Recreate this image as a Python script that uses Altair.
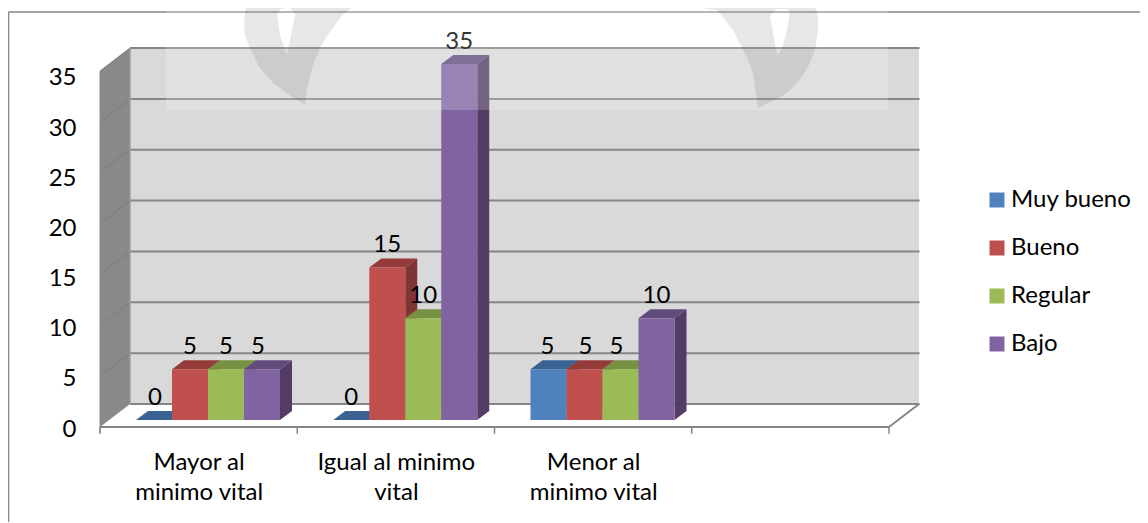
import json
import numpy as np
import pandas as pd
import altair as alt

# ---------- chart values ----------
categories = ["Mayor al minimo vital", "Igual al minimo vital", "Menor al minimo vital"]
category_lines = [["Mayor al", "minimo vital"], ["Igual al minimo", "vital"], ["Menor al", "minimo vital"]]
series = ["Muy bueno", "Bueno", "Regular", "Bajo"]
muy_bueno = [0, 0, 5]
bueno = [5, 15, 5]
regular = [5, 10, 5]
bajo = [5, 35, 10]
ticks_y = [0, 5, 10, 15, 20, 25, 30, 35]

front_colors = ["#4F81BD", "#C0504D", "#9BBB59", "#8064A2"]
top_colors = ["#3A6293", "#943B39", "#779143", "#614B7D"]
side_colors = ["#33547E", "#7E3534", "#667C39", "#533D66"]

FONT = "Lato"
FS = 24
GRID = "#868686"


# ---------- page-pixel helpers: the scales are linear, these give lengths in data units ----------
def X(px):
    return (px - 100) / 197.25


def Y(py):
    return (427 - py) / 10.17


DX_BACK, DY_BACK = 30 / 197.25, 23 / 10.17      # depth of the box
DX_BAR, DY_BAR = 12 / 197.25, 9 / 10.17         # depth of one bar
BASE_Y = 7 / 10.17                              # how far back the bars stand on the floor
BAR_W = 36 / 197.25
BAR_START = 36 / 197.25
VMAX = 35

SX = alt.Scale(domain=[X(8), X(1140)], nice=False, zero=False)
SY = alt.Scale(domain=[Y(523), Y(8)], nice=False, zero=False)


def xe(f="x"):
    return alt.X(f"{f}:Q", scale=SX, title=None)


def ye(f="y"):
    return alt.Y(f"{f}:Q", scale=SY, title=None)


def area(df, color, **mk):
    return alt.Chart(df).mark_area(orient="vertical", color=color, **mk).encode(
        x=xe(), y=ye(), y2=alt.Y2("y2:Q"), detail=alt.Detail("g:N"))


def rule(rows, color=GRID, width=2, **mk):
    return alt.Chart(pd.DataFrame(rows)).mark_rule(color=color, strokeWidth=width, **mk).encode(
        x=xe(), x2=alt.X2("x2:Q"), y=ye(), y2=alt.Y2("y2:Q"))


# ---------- tables ----------
rows = []
for s, (name, vals) in enumerate(zip(series, [muy_bueno, bueno, regular, bajo])):
    for c, (cat, v) in enumerate(zip(categories, vals)):
        rows.append(dict(series=name, s=s, c=c, category=cat, value=v))
bars = pd.DataFrame(rows)
bars["left"] = bars.c + BAR_START + bars.s * BAR_W
bars["right"] = bars.left + BAR_W
bars["base"] = BASE_Y
bars["top"] = BASE_Y + bars.value

# small hand placement of some data labels, in pixels
nudges = {(0, 3): -4, (2, 2): -4, (2, 1): 1, (2, 0): -1, (0, 0): 1}
bars["label_x"] = bars.left + BAR_W / 2 + [nudges.get((a, b), 0) / 197.25 for a, b in zip(bars.c, bars.s)]
bars["label_y"] = bars.top + DY_BAR + 13 / 10.17


def side_faces(sub):
    out = []
    for i, r in sub.iterrows():
        out.append(dict(g=i, x=r.right, y=r.top, y2=r.base))
        out.append(dict(g=i, x=r.right + DX_BAR, y=r.top + DY_BAR, y2=r.base + DY_BAR))
    return pd.DataFrame(out)


def top_faces(sub):
    out = []
    for i, r in sub.iterrows():
        out.append(dict(g=i, x=r.left, y=r.top, y2=r.top))
        out.append(dict(g=i, x=r.left + DX_BAR, y=r.top + DY_BAR, y2=r.top))
        out.append(dict(g=i, x=r.right, y=r.top + DY_BAR, y2=r.top))
        out.append(dict(g=i, x=r.right + DX_BAR, y=r.top + DY_BAR, y2=r.top + DY_BAR))
    return pd.DataFrame(out)


# ---------- box: wall, floor, left wall, grid ----------
x_end = 4
wall = alt.Chart(pd.DataFrame([dict(x=DX_BACK, x2=x_end + DX_BACK, y=DY_BACK, y2=VMAX + DY_BACK)])).mark_rect(
    color="#D9D9D9"
).encode(
    x=alt.X("x:Q", scale=SX, title=None, axis=alt.Axis(
        values=[0.5, 1.5, 2.5], orient="bottom", offset=-73, domain=False, ticks=False, grid=False,
        labelFont=FONT, labelFontSize=FS, labelColor="#000000", labelPadding=0, labelLineHeight=30,
        labelBaseline="top", labelAlign="center", labelOverlap=False, labelFlush=False,
        labelExpr="[" + ",".join(json.dumps(l) for l in category_lines) + "][floor(datum.value)]")),
    x2=alt.X2("x2:Q"),
    y=alt.Y("y:Q", scale=SY, title=None, axis=alt.Axis(
        values=ticks_y, orient="left", offset=-68, domain=False, ticks=False, grid=False,
        labelFont=FONT, labelFontSize=FS, labelColor="#000000", labelPadding=0,
        labelOffset={"expr": "2+datum.value*0.14"})),
    y2=alt.Y2("y2:Q"),
)

floor = area(pd.DataFrame([
    dict(g=0, x=0, y=0, y2=0), dict(g=0, x=DX_BACK, y=DY_BACK, y2=0),
    dict(g=0, x=x_end, y=DY_BACK, y2=0), dict(g=0, x=x_end + DX_BACK, y=DY_BACK, y2=DY_BACK)]), "#FFFFFF")

left_wall = area(pd.DataFrame([
    dict(g=0, x=0, y=0, y2=VMAX), dict(g=0, x=DX_BACK, y=DY_BACK, y2=VMAX + DY_BACK)]), "#898989")

grid_back = rule([dict(x=DX_BACK, x2=x_end + DX_BACK + 0.003, y=v + DY_BACK, y2=v + DY_BACK) for v in ticks_y])
grid_side = rule([dict(x=0, x2=DX_BACK, y=v, y2=v + DY_BACK) for v in ticks_y[1:]], color="#7C7C7C", width=1)
wall_edge = rule([dict(x=DX_BACK, x2=DX_BACK, y=DY_BACK, y2=VMAX + DY_BACK)], color="#9C9C9C", width=1.5)
floor_front = rule([dict(x=0, x2=x_end, y=0, y2=0),
                    dict(x=x_end, x2=x_end + DX_BACK, y=0, y2=DY_BACK)], width=2)
left_edge = rule([dict(x=0, x2=0, y=-0.6, y2=VMAX)], color="#8C8C8C", width=1)
tick_marks = rule([dict(x=i, x2=i, y=0, y2=-0.66) for i in range(5)], width=1.5)

# outer frame of the picture
frame = rule([dict(x=X(8.5), x2=X(1140), y=Y(12), y2=Y(12)),
              dict(x=X(8.5), x2=X(8.5), y=Y(12), y2=Y(522))], width=1.5)

# ---------- bars, painted left to right as in the reference ----------
color_enc = alt.Color("series:N", scale=alt.Scale(domain=series, range=front_colors), legend=alt.Legend(
    orient="none", legendX=977, legendY=180, title=None, symbolType="square", symbolSize=225,
    symbolStrokeWidth=0, symbolOpacity=1, labelFont=FONT, labelFontSize=FS, labelColor="#000000",
    rowPadding=24, labelOffset=2, padding=0))

bar_layers = []
for i, name in enumerate(series):
    sub = bars[bars.series == name]
    bar_layers.append(area(side_faces(sub), side_colors[i]))
    bar_layers.append(area(top_faces(sub), top_colors[i]))
    bar_layers.append(alt.Chart(sub).mark_bar(opacity=1).encode(
        x=xe("left"), x2=alt.X2("right:Q"), y=ye("base"), y2=alt.Y2("top:Q"), color=color_enc))

labels = alt.Chart(bars).mark_text(font=FONT, fontSize=FS, color="#000000", baseline="middle", align="center").encode(
    x=xe("label_x"), y=ye("label_y"), text=alt.Text("value:Q"))

# ---------- page watermark lying over the chart ----------
def watermark(xs, tops, bots, hole_x, hole_top, hole_bot, gid):
    """Outline with a teardrop hole, cut into vertical strips around the hole."""
    xs, tops, bots = map(np.array, (xs, tops, bots))
    hx0, hx1 = hole_x[0], hole_x[-1]
    pieces = []
    all_x = sorted(set(xs.tolist()) | set(hole_x))
    for px in all_x:
        t, b = np.interp(px, xs, tops), np.interp(px, xs, bots)
        if px <= hx0:
            pieces.append((f"{gid}a", px, t, b))
        if px >= hx1:
            pieces.append((f"{gid}d", px, t, b))
        if hx0 <= px <= hx1:
            ht, hb = np.interp(px, hole_x, hole_top), np.interp(px, hole_x, hole_bot)
            pieces.append((f"{gid}b", px, t, ht))
            pieces.append((f"{gid}c", px, hb, b))
    return pd.DataFrame([dict(g=g, x=X(px), y=Y(max(t, 8)), y2=Y(max(b, 8))) for g, px, t, b in pieces])


wm_left = watermark(
    [244, 245, 246, 250, 258, 265, 273, 280, 292, 305, 307, 310, 313, 320, 327, 335, 343, 352, 362],
    [24, 12, 8, 0, 0, 0, 0, 0, 0, 0, 0, 0, 0, 0, 0, 0, 0, 0, 0],
    [24, 33, 38, 48, 65, 74, 83, 88, 97, 105, 90, 76, 65, 48, 36, 25, 14, 5, 0],
    [277, 280, 285, 287, 289, 292, 295], [15, 10, 8, 8, 8, 10, 14], [15, 35, 50, 55, 45, 30, 14], "L")
wm_right = watermark(
    [700, 717, 733, 742, 748, 753, 758, 775, 787, 797, 805, 810, 815, 817, 818.5],
    [0, 0, 0, 0, 0, 0, 0, 0, 0, 0, 0, 0, 0, 12, 25],
    [0, 10, 30, 48, 60, 73, 108, 100, 93, 83, 72, 63, 50, 38, 25],
    [770, 773, 776, 778, 782, 787, 790], [17, 12, 10, 9, 9, 9, 12], [17, 32, 50, 55, 48, 30, 12], "R")

wm = area(pd.concat([wm_left, wm_right], ignore_index=True), "#000000", opacity=0.115, strokeWidth=0)
band = alt.Chart(pd.DataFrame([dict(x=X(166), x2=X(888), y=Y(8), y2=Y(110))])).mark_rect(
    color="#FFFFFF", opacity=0.2).encode(x=xe(), x2=alt.X2("x2:Q"), y=ye(), y2=alt.Y2("y2:Q"))

chart = alt.layer(
    wall, floor, left_wall, grid_back, grid_side, wall_edge, floor_front, left_edge, tick_marks, frame,
    *bar_layers, labels, wm, band
).properties(
    width=1132, height=515, padding=0, autosize=alt.AutoSizeParams(type="none"), background="#FFFFFF"
).configure_view(stroke=None)

chart.save("out.html", embed_options={"renderer": "svg", "actions": False})
